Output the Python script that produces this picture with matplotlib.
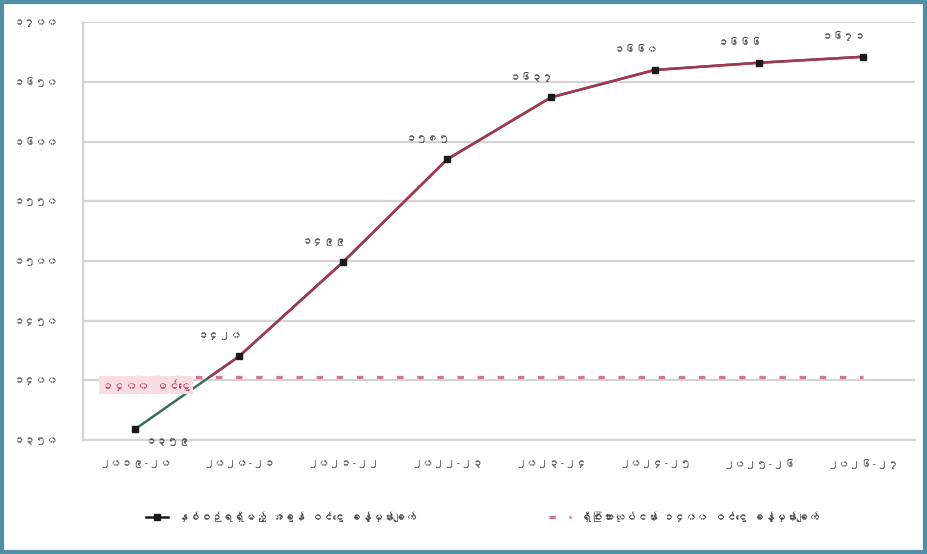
import numpy as np
import matplotlib
matplotlib.use("Agg")
import matplotlib.pyplot as plt
from matplotlib import font_manager
from matplotlib.ft2font import FT2Font
from matplotlib.patches import Rectangle

# data (values in Myanmar digits on the chart)
years = ["၂၀၁၉-၂၀", "၂၀၂၀-၂၁", "၂၀၂၁-၂၂", "၂၀၂၂-၂၃",
         "၂၀၂၃-၂၄", "၂၀၂၄-၂၅", "၂၀၂၅-၂၆", "၂၀၂၆-၂၇"]
actual = [1359, 1420, 1499, 1585, 1637, 1660, 1666, 1671]
target = [1403] * len(years)
yticks = [1350, 1400, 1450, 1500, 1550, 1600, 1650, 1700]

legend_actual = "နှစ်စဉ်ရရှိမည့် အခွန် ဝင်ငွေ ခန့်မှန်းချက်"
legend_target = "ရှိပြီးသားလုပ်ငန်း ၁၄၀၀ ဝင်ငွေ ခန့်မှန်းချက်"
target_label = "၁၄၀၀ ဝင်ငွေ"

MM_DIGITS = str.maketrans("0123456789", "၀၁၂၃၄၅၆၇၈၉")


def mm(n):
    return str(n).translate(MM_DIGITS)


def find_myanmar_font():
    for f in font_manager.fontManager.ttflist:
        try:
            if 0x1041 in FT2Font(f.fname).get_charmap():
                return f.name
        except Exception:
            pass
    return None


mm_font = find_myanmar_font()
if mm_font:
    plt.rcParams['font.family'] = [mm_font, 'DejaVu Sans']

fig = plt.figure(figsize=(9.28, 5.54), dpi=100)
ax = fig.add_axes([0.0894, 0.2058, 0.8966, 0.7542])

x = np.arange(len(years))

for v in yticks:
    ax.axhline(v, color="#d4d4d4", lw=1.6, zorder=0)

# red dotted target series
ax.plot(x, target, color="#cf7890", lw=2.3, linestyle=(0, (2, 4.3)),
        zorder=2, label=legend_target)

# actual series: green-grey below the target line, maroon above
ax.plot(x, actual, color="#3f6b5a", lw=1.8, zorder=3)
top_line, = ax.plot(x, actual, color="#a8344f", lw=1.8, zorder=4)
top_line.set_clip_path(Rectangle((-1, target[0]), 20, 1e4,
                                 transform=ax.transData))
ax.plot(x, actual, linestyle="none", marker="s", ms=4.5,
        mfc="#1a1a1a", mec="#1a1a1a", zorder=5)
ax.plot([], [], color="#1a1a1a", lw=1.8, marker="s", ms=4.5,
        label=legend_actual)

# data labels
for i, v in enumerate(actual):
    if i == 0:
        off = (24, -9)
    else:
        off = (-14, 15)
    ax.annotate(mm(v), (x[i], v), xytext=off, textcoords="offset points",
                ha="center", va="center", fontsize=8, color="#404040")

ax.annotate(target_label, (x[0], target[0]), xytext=(8, -6),
            textcoords="offset points", ha="center", va="center",
            fontsize=8.5, color="#c0304a",
            bbox=dict(boxstyle="square,pad=0.25", fc="#f8dde3", ec="none"))

ax.set_xlim(-0.5, len(years) - 0.5)
ax.set_ylim(yticks[0], yticks[-1])
ax.set_xticks(x)
ax.set_xticklabels(years, fontsize=8, color="#505050")
ax.set_yticks(yticks)
ax.set_yticklabels([mm(v) for v in yticks], fontsize=8, color="#505050")
ax.tick_params(length=0, pad=18)
ax.tick_params(axis="x", pad=14)
for side in ["top", "right"]:
    ax.spines[side].set_visible(False)
ax.spines["left"].set_color("#d4d4d4")
ax.spines["bottom"].set_color("#d4d4d4")
ax.spines["left"].set_linewidth(1.6)
ax.spines["bottom"].set_linewidth(1.6)

handles, labels = ax.get_legend_handles_labels()
fig.legend(handles[::-1], labels[::-1], loc="center", ncol=2,
           bbox_to_anchor=(0.52, 0.067), frameon=False, fontsize=8,
           columnspacing=12, handlelength=2, labelcolor="#404040")

# outer frame
fig.patches.append(Rectangle((0.002, 0.003), 0.995, 0.993,
                             transform=fig.transFigure, fill=False,
                             ec="#4f8fa6", lw=3))

fig.savefig("out.png", dpi=100)
